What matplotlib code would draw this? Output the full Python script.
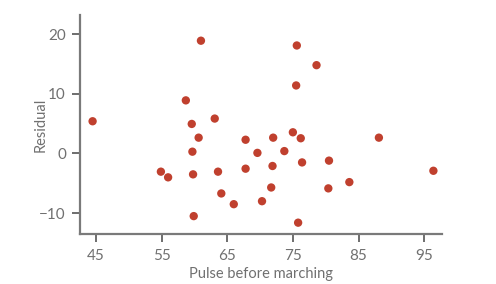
import matplotlib
matplotlib.use("Agg")
from matplotlib import pyplot as plt

# pulse before marching vs residual
pulse = [44.5, 61.0, 58.7, 59.6, 63.1, 60.65, 67.8, 75.6, 78.6, 75.5,
         72.0, 75.0, 76.2, 88.1, 59.7, 54.9, 56.0, 59.8, 63.6, 67.8,
         64.1, 66.0, 59.9, 69.6, 73.7, 71.9, 76.4, 80.5, 96.4, 71.7,
         80.4, 83.6, 70.3, 75.8]
residual = [5.4, 18.9, 8.9, 4.95, 5.85, 2.65, 2.3, 18.1, 14.8, 11.4,
            2.65, 3.55, 2.55, 2.65, 0.3, -3.05, -4.0, -3.5, -3.05, -2.55,
            -6.7, -8.5, -10.5, 0.1, 0.4, -2.1, -1.5, -1.2, -2.9, -5.7,
            -5.85, -4.8, -8.0, -11.6]
xticks = [45, 55, 65, 75, 85, 95]
yticks = [-10, 0, 10, 20]

plt.rcParams["font.family"] = ["Lato", "DejaVu Sans"]

fig = plt.figure(figsize=(4.96, 2.84), dpi=100)
ax = fig.add_axes([0.161, 0.176, 0.730, 0.771])

ax.scatter(pulse, residual, s=36, color="#c0402e", edgecolors="none", zorder=3)

ax.set_xlim(42.56, 97.7)
ax.set_ylim(-13.5, 23.2)
ax.set_xticks(xticks)
ax.set_yticks(yticks)
ax.set_yticklabels(["\u221210", "0", "10", "20"])

for side in ["top", "right"]:
    ax.spines[side].set_visible(False)
for side in ["left", "bottom"]:
    ax.spines[side].set_color("#7a7a7a")
    ax.spines[side].set_linewidth(1.6)

ax.tick_params(axis="both", direction="out", length=6, width=1.2,
               color="#555555", labelcolor="#707070", labelsize=11, pad=4)
ax.tick_params(axis="x", pad=5)

ax.set_xlabel("Pulse before marching", color="#707070", fontsize=10.5, labelpad=3)
ax.set_ylabel("Residual", color="#707070", fontsize=10.5)
ax.yaxis.set_label_coords(-0.09, 0.5)

fig.savefig("out.png", dpi=100)
